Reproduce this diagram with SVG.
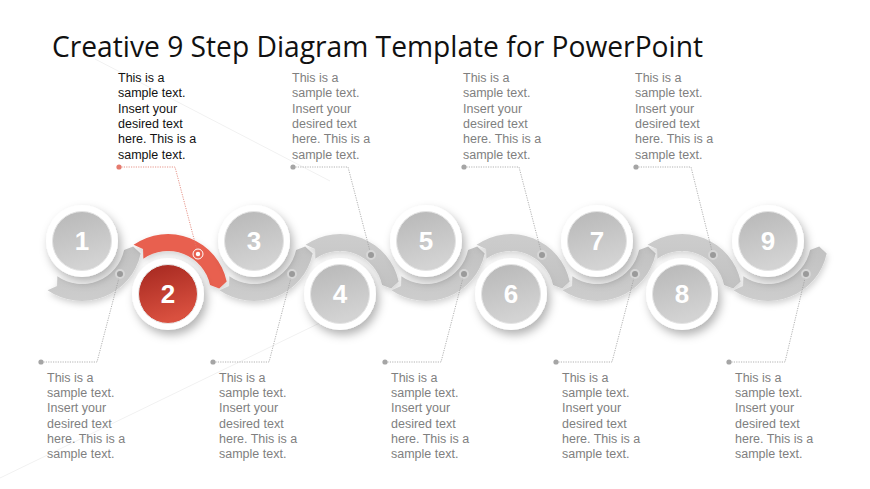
<svg xmlns="http://www.w3.org/2000/svg" xmlns:xlink="http://www.w3.org/1999/xlink" width="870" height="489" viewBox="0 0 870 489">
<defs>
<filter id="sh" x="-50%" y="-50%" width="200%" height="200%"><feDropShadow dx="3" dy="5" stdDeviation="5" flood-color="#000" flood-opacity="0.3"/></filter>
<filter id="bsh" x="-30%" y="-30%" width="160%" height="160%"><feDropShadow dx="1" dy="3" stdDeviation="3" flood-color="#000" flood-opacity="0.18"/></filter>
<linearGradient id="gGrey" x1="0" y1="0" x2="0.3" y2="1"><stop offset="0" stop-color="#b7b7b7"/><stop offset="1" stop-color="#d3d3d3"/></linearGradient>
<linearGradient id="gRed" x1="0" y1="0" x2="0.3" y2="1"><stop offset="0" stop-color="#a4271f"/><stop offset="1" stop-color="#d9503f"/></linearGradient>
<linearGradient id="gBand" x1="0" y1="0" x2="0" y2="1"><stop offset="0" stop-color="#c1c1c1"/><stop offset="1" stop-color="#cdcdcd"/></linearGradient>
<path id="band" d="M -34.42 49.15 L -24.97 45.04 L -24.66 35.23 A 43 43 0 0 0 42.06 8.94 L 51.22 5.38 L 58.69 12.47 A 60 60 0 0 1 -34.42 49.15 Z"/>
</defs>
<style>
.ring{fill:#ffffff;}
.in{fill:url(#gGrey);stroke:#e4e4e4;stroke-width:1;}
.inr{fill:url(#gRed);stroke:#e9e9e9;stroke-width:1;}
.num{font-family:"Liberation Sans",Arial,sans-serif;font-weight:bold;font-size:26px;fill:#ffffff;text-anchor:middle;}
.txt{font-family:"Liberation Sans",Arial,sans-serif;font-size:12.5px;fill:#7f7f7f;}
.txtk{font-family:"Liberation Sans",Arial,sans-serif;font-size:12.5px;fill:#111111;}
.lead{fill:none;stroke:#a0a0a0;stroke-width:0.8;stroke-dasharray:1.2 1.2;}
.leadr{fill:none;stroke:#e07a6c;stroke-width:0.8;stroke-dasharray:1.2 1.2;}
.bg{stroke:#f1f1f1;stroke-width:1;}
</style>
<rect width="870" height="489" fill="#ffffff"/>
<line class="bg" x1="95" y1="59" x2="330" y2="181"/>
<line class="bg" x1="0" y1="478" x2="330" y2="318"/>

<text x="52" y="57" font-family="'Open Sans','Liberation Sans',sans-serif" font-size="28.5" fill="#111111" textLength="651" lengthAdjust="spacingAndGlyphs">Creative 9 Step Diagram Template for PowerPoint</text>

<g id="bands">
<g filter="url(#bsh)"><use xlink:href="#band" transform="translate(82,241)" fill="url(#gBand)"/></g>
<g filter="url(#bsh)"><use xlink:href="#band" transform="translate(168,294) scale(1,-1)" fill="#e8604f"/></g>
<g filter="url(#bsh)"><use xlink:href="#band" transform="translate(254,241)" fill="url(#gBand)"/></g>
<g filter="url(#bsh)"><use xlink:href="#band" transform="translate(340,294) scale(1,-1)" fill="url(#gBand)"/></g>
<g filter="url(#bsh)"><use xlink:href="#band" transform="translate(426,241)" fill="url(#gBand)"/></g>
<g filter="url(#bsh)"><use xlink:href="#band" transform="translate(511,294) scale(1,-1)" fill="url(#gBand)"/></g>
<g filter="url(#bsh)"><use xlink:href="#band" transform="translate(597,241)" fill="url(#gBand)"/></g>
<g filter="url(#bsh)"><use xlink:href="#band" transform="translate(682,294) scale(1,-1)" fill="url(#gBand)"/></g>
<g filter="url(#bsh)"><use xlink:href="#band" transform="translate(768,241)" fill="url(#gBand)"/></g>
</g>

<g id="step1"><circle class="ring" cx="82" cy="241" r="36" filter="url(#sh)"/><circle class="in" cx="82" cy="241" r="29.5"/><text class="num" x="82" y="250">1</text></g>
<g id="step2"><circle class="ring" cx="168" cy="294" r="36" filter="url(#sh)"/><circle class="inr" cx="168" cy="294" r="29.5"/><text class="num" x="168" y="303">2</text></g>
<g id="step3"><circle class="ring" cx="254" cy="241" r="36" filter="url(#sh)"/><circle class="in" cx="254" cy="241" r="29.5"/><text class="num" x="254" y="250">3</text></g>
<g id="step4"><circle class="ring" cx="340" cy="294" r="36" filter="url(#sh)"/><circle class="in" cx="340" cy="294" r="29.5"/><text class="num" x="340" y="303">4</text></g>
<g id="step5"><circle class="ring" cx="426" cy="241" r="36" filter="url(#sh)"/><circle class="in" cx="426" cy="241" r="29.5"/><text class="num" x="426" y="250">5</text></g>
<g id="step6"><circle class="ring" cx="511" cy="294" r="36" filter="url(#sh)"/><circle class="in" cx="511" cy="294" r="29.5"/><text class="num" x="511" y="303">6</text></g>
<g id="step7"><circle class="ring" cx="597" cy="241" r="36" filter="url(#sh)"/><circle class="in" cx="597" cy="241" r="29.5"/><text class="num" x="597" y="250">7</text></g>
<g id="step8"><circle class="ring" cx="682" cy="294" r="36" filter="url(#sh)"/><circle class="in" cx="682" cy="294" r="29.5"/><text class="num" x="682" y="303">8</text></g>
<g id="step9"><circle class="ring" cx="768" cy="241" r="36" filter="url(#sh)"/><circle class="in" cx="768" cy="241" r="29.5"/><text class="num" x="768" y="250">9</text></g>

<g id="connectors">
<polyline class="leadr" points="119,167 175,167 198,254"/>
<polyline class="lead" points="293,167 348,167 371,255"/>
<polyline class="lead" points="464,167 519,167 542,255"/>
<polyline class="lead" points="636,167 691,167 713,255"/>
<polyline class="lead" points="41,362 97,362 120,274"/>
<polyline class="lead" points="213,362 269,362 292,274"/>
<polyline class="lead" points="385,362 441,362 464,274"/>
<polyline class="lead" points="556,362 612,362 635,274"/>
<polyline class="lead" points="729,362 785,362 806,274"/>
<circle cx="119" cy="167" r="2.6" fill="#e57a6e"/>
<circle cx="293" cy="167" r="2.6" fill="#a5a5a5"/>
<circle cx="464" cy="167" r="2.6" fill="#a5a5a5"/>
<circle cx="636" cy="167" r="2.6" fill="#a5a5a5"/>
<circle cx="41" cy="362" r="2.6" fill="#a5a5a5"/>
<circle cx="213" cy="362" r="2.6" fill="#a5a5a5"/>
<circle cx="385" cy="362" r="2.6" fill="#a5a5a5"/>
<circle cx="556" cy="362" r="2.6" fill="#a5a5a5"/>
<circle cx="729" cy="362" r="2.6" fill="#a5a5a5"/>
<circle cx="198" cy="254" r="5" fill="none" stroke="#ffffff" stroke-width="1"/><circle cx="198" cy="254" r="2.2" fill="#ffffff"/>
<g fill="#9a9a9a" stroke="#d6d6d6" stroke-width="2">
<circle cx="371" cy="255" r="4"/><circle cx="542" cy="255" r="4"/><circle cx="713" cy="255" r="4"/>
<circle cx="120" cy="274" r="4"/><circle cx="292" cy="274" r="4"/><circle cx="464" cy="274" r="4"/><circle cx="635" cy="274" r="4"/><circle cx="806" cy="274" r="4"/>
</g>
</g>

<g id="text2" class="txtk"><text x="118" y="82">This is a</text><text x="118" y="97.3">sample text.</text><text x="118" y="112.6">Insert your</text><text x="118" y="127.9">desired text</text><text x="118" y="143.2">here. This is a</text><text x="118" y="158.5">sample text.</text></g>
<g id="text4" class="txt"><text x="292" y="82">This is a</text><text x="292" y="97.3">sample text.</text><text x="292" y="112.6">Insert your</text><text x="292" y="127.9">desired text</text><text x="292" y="143.2">here. This is a</text><text x="292" y="158.5">sample text.</text></g>
<g id="text6" class="txt"><text x="463" y="82">This is a</text><text x="463" y="97.3">sample text.</text><text x="463" y="112.6">Insert your</text><text x="463" y="127.9">desired text</text><text x="463" y="143.2">here. This is a</text><text x="463" y="158.5">sample text.</text></g>
<g id="text8" class="txt"><text x="635" y="82">This is a</text><text x="635" y="97.3">sample text.</text><text x="635" y="112.6">Insert your</text><text x="635" y="127.9">desired text</text><text x="635" y="143.2">here. This is a</text><text x="635" y="158.5">sample text.</text></g>

<g id="text1" class="txt"><text x="47" y="382">This is a</text><text x="47" y="397.2">sample text.</text><text x="47" y="412.4">Insert your</text><text x="47" y="427.6">desired text</text><text x="47" y="442.8">here. This is a</text><text x="47" y="458">sample text.</text></g>
<g id="text3" class="txt"><text x="219" y="382">This is a</text><text x="219" y="397.2">sample text.</text><text x="219" y="412.4">Insert your</text><text x="219" y="427.6">desired text</text><text x="219" y="442.8">here. This is a</text><text x="219" y="458">sample text.</text></g>
<g id="text5" class="txt"><text x="391" y="382">This is a</text><text x="391" y="397.2">sample text.</text><text x="391" y="412.4">Insert your</text><text x="391" y="427.6">desired text</text><text x="391" y="442.8">here. This is a</text><text x="391" y="458">sample text.</text></g>
<g id="text7" class="txt"><text x="562" y="382">This is a</text><text x="562" y="397.2">sample text.</text><text x="562" y="412.4">Insert your</text><text x="562" y="427.6">desired text</text><text x="562" y="442.8">here. This is a</text><text x="562" y="458">sample text.</text></g>
<g id="text9" class="txt"><text x="735" y="382">This is a</text><text x="735" y="397.2">sample text.</text><text x="735" y="412.4">Insert your</text><text x="735" y="427.6">desired text</text><text x="735" y="442.8">here. This is a</text><text x="735" y="458">sample text.</text></g>
</svg>
